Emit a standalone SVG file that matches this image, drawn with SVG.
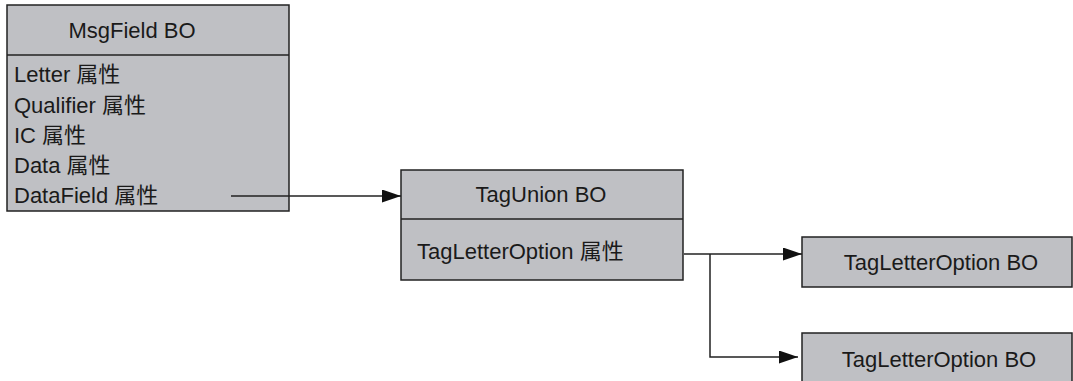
<svg xmlns="http://www.w3.org/2000/svg" width="1073" height="381" viewBox="0 0 1073 381">
<style>
.box{fill:#bfc0c4;stroke:#222;stroke-width:1.5}
.div{stroke:#222;stroke-width:1.5}
text{font-family:"Liberation Sans","Noto Sans CJK SC",sans-serif;font-size:22px;fill:#1a1a1a}
.c{text-anchor:middle}
.line{fill:none;stroke:#222;stroke-width:1.5}
</style>
<defs>
<marker id="arr" markerWidth="19" markerHeight="13" refX="19" refY="6.5" orient="auto" markerUnits="userSpaceOnUse">
<path d="M0,0 L19,6.5 L0,13 Z" fill="#111"/>
</marker>
</defs>
<rect width="1073" height="381" fill="#fff"/>
<g id="msgfield">
<rect class="box" x="7" y="5" width="282" height="206"/>
<line class="div" x1="7" y1="55" x2="289" y2="55"/>
<text class="c" x="132" y="38">MsgField BO</text>
<text x="14" y="82">Letter 属性</text>
<text x="14" y="113">Qualifier 属性</text>
<text x="14" y="143">IC 属性</text>
<text x="14" y="173">Data 属性</text>
<text x="14" y="203">DataField 属性</text>
</g>
<g id="tagunion">
<rect class="box" x="401" y="170" width="282" height="110"/>
<line class="div" x1="401" y1="219" x2="683" y2="219"/>
<text class="c" x="541" y="202">TagUnion BO</text>
<text x="417" y="259">TagLetterOption 属性</text>
</g>
<g id="option1">
<rect class="box" x="802" y="237" width="270" height="50"/>
<text class="c" x="941" y="270">TagLetterOption BO</text>
</g>
<g id="option2">
<rect class="box" x="802" y="333" width="270" height="60"/>
<text class="c" x="939" y="367">TagLetterOption BO</text>
</g>
<g id="connectors">
<line class="line" x1="231" y1="196" x2="401" y2="196" marker-end="url(#arr)"/>
<polyline class="line" points="684,254 710,254 802,254" marker-end="url(#arr)"/>
<polyline class="line" points="710,254 710,357 798,357" marker-end="url(#arr)"/>
</g>
</svg>
